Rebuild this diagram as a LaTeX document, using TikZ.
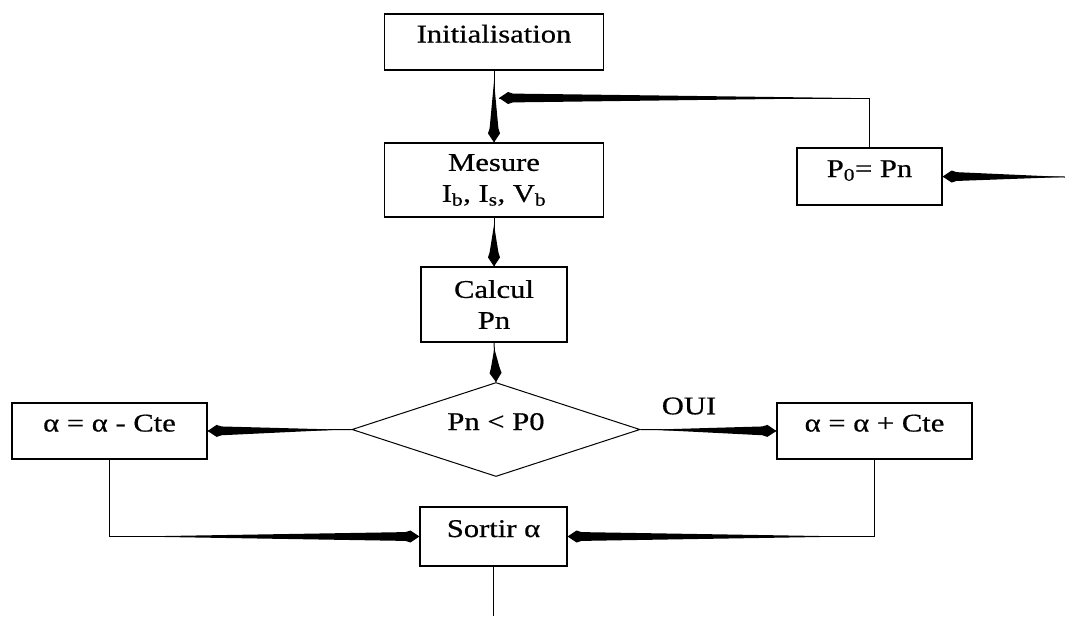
\documentclass[tikz,border=0pt]{standalone}
\usepackage{fontspec}
\setmainfont{Liberation Serif}[FakeStretch=1.2,FakeBold=0.6]
\usetikzlibrary{calc,shapes.geometric}
% tapered "spear" connector: #2 start, #3 tip, #1 fraction where widening starts
\newcommand\spear[3][0.08]{%
  \draw[conn] (#2) -- (#3);
  \fill[spearfill] ($(#2)!#1!(#3)$)
    -- ($(#3)!14pt!(#2)!4.4pt!90:(#2)$)
    -- ($(#3)!9pt!(#2)!6pt!90:(#2)$)
    -- (#3)
    -- ($(#3)!9pt!(#2)!6pt!-90:(#2)$)
    -- ($(#3)!14pt!(#2)!4.4pt!-90:(#2)$)
    -- cycle;}
\begin{document}
\begin{tikzpicture}[x=1pt,y=-1pt,
  every node/.style={font=\fontsize{25.5}{31}\selectfont},
  box/.style={draw, line width=1.2pt, rectangle, inner sep=3pt, align=center},
  oneline/.style={text height=18pt, text depth=17pt},
  conn/.style={line width=1pt},
  spearfill/.style={fill=black}]
\useasboundingbox (0,0) rectangle (1065,616);
% nodes
\node[box, oneline, minimum width=219, minimum height=56] (init) at (494,42) {Initialisation};
\node[box, minimum width=219, minimum height=74] (mes) at (494,180)
  {Mesure\\I\textsubscript{b}, I\textsubscript{s}, V\textsubscript{b}};
\node[box, minimum width=146, minimum height=75] (cal) at (494,304.5) {Calcul\\Pn};
\node[box, oneline, minimum width=145, minimum height=57] (p0) at (869.5,176.5) {P\textsubscript{0}= Pn};
\node[draw, diamond, line width=1pt, minimum width=288, minimum height=94, inner sep=0pt, aspect=3, oneline] (dia) at (496,429.5) {Pn < P0};
\node[box, oneline, minimum width=195, minimum height=56] (la) at (109.5,431) {α = α - Cte};
\node[box, oneline, minimum width=195, minimum height=56] (ra) at (874.5,431) {α = α + Cte};
\node[box, oneline, minimum width=147, minimum height=59] (sortir) at (493.5,536.5) {Sortir α};
\node (oui) at (689,406) {OUI};
% coordinates
\coordinate (fb) at (p0.north |- 0,98);
\coordinate (j) at (499,98);
\coordinate (rin) at (1065,177);
\coordinate (lc) at (la.south |- sortir.west);
\coordinate (rc) at (ra.south |- sortir.east);
\coordinate (out) at (sortir.south |- 0,616);
% connectors
\spear[0.15]{init.south}{mes.north}
\draw[conn] (p0.north) -- (fb);
\spear[0.05]{fb}{j}
\spear[0]{rin}{p0.east}
\spear[0.15]{mes.south}{cal.north}
\spear[0.15]{cal.south}{dia.north}
\spear{dia.west}{la.east}
\spear{dia.east}{ra.west}
\draw[conn] (la.south) -- (lc);
\spear{lc}{sortir.west}
\draw[conn] (ra.south) -- (rc);
\spear{rc}{sortir.east}
\draw[conn] (sortir.south) -- (out);
\end{tikzpicture}
\end{document}
